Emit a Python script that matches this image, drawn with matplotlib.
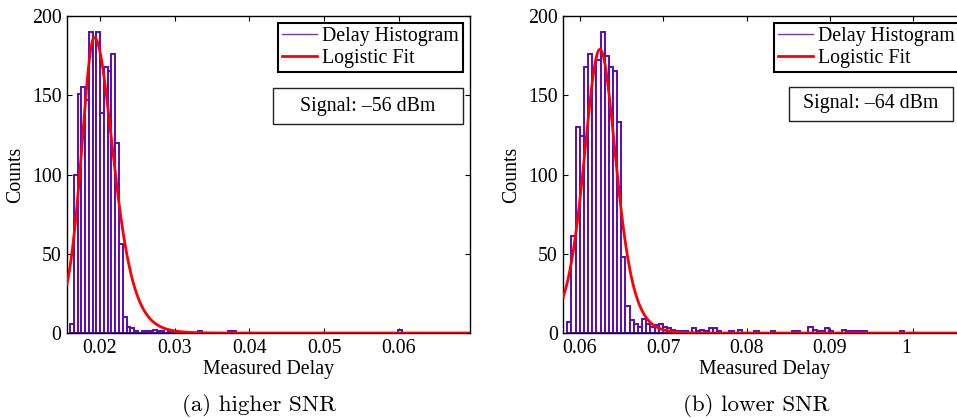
import numpy as np
import matplotlib.pyplot as plt
from matplotlib.lines import Line2D
from matplotlib.patches import Rectangle
import matplotlib.transforms as mtransforms

plt.rcParams['font.family'] = ['Liberation Serif', 'DejaVu Serif']
plt.rcParams['font.size'] = 14.3

HIST_COLOR = '#5a0ab8'
HIST_KEY_COLOR = '#6a3cd0'
FIT_COLOR = '#ff0000'

# --- higher SNR run, signal -56 dBm ---
hi_start = 0.01598
hi_width = 0.000505
hi_counts = [6, 100, 151, 155, 147, 190, 186, 190, 139, 168, 165, 176, 120, 56, 10, 4, 3, 1, 0, 1,
             1, 1, 2, 1, 1, 0, 1, 0, 0, 0, 0, 0, 0, 0, 1, 0, 0, 0, 0, 0,
             0, 0, 1, 1, 0, 0, 0, 0, 0, 0, 0, 0, 0, 0, 0, 0, 0, 0, 0, 0,
             0, 0, 0, 0, 0, 0, 0, 0, 0, 0, 0, 0, 0, 0, 0, 0, 0, 0, 0, 0,
             0, 0, 0, 0, 0, 0, 0, 2, 0, 0, 0, 0, 0, 0, 0, 0, 0, 0, 0, 0]
hi_fit = dict(peak=186.5, mode=0.01924, s_left=0.00118, s_right=0.0017)
hi_xlim = (0.01558, 0.06955)
hi_ticks = [0.02, 0.03, 0.04, 0.05, 0.06]
hi_ticklabels = ['0.02', '0.03', '0.04', '0.05', '0.06']

# --- lower SNR run, signal -64 dBm ---
lo_start = 0.05848
lo_width = 0.000499
lo_counts = [7, 61, 130, 124, 168, 176, 164, 172, 190, 175, 168, 165, 133, 48, 17, 8, 6, 4, 9, 6,
             4, 5, 6, 4, 3, 2, 1, 1, 1, 0, 3, 1, 2, 1, 3, 3, 1, 0, 0, 1,
             0, 2, 0, 0, 0, 1, 0, 0, 0, 1, 0, 0, 0, 0, 1, 1, 0, 0, 4, 2,
             1, 1, 3, 1, 0, 0, 2, 1, 1, 1, 1, 1, 0, 0, 0, 0, 0, 0, 0, 0,
             1, 0, 0, 0, 0, 0, 0, 0, 0, 0, 0, 0, 0, 0, 0]
lo_fit = dict(peak=179, mode=0.0624, s_left=0.0013, s_right=0.0013)
lo_xlim = (0.058, 0.10634)
lo_ticks = [0.06, 0.07, 0.08, 0.09, 0.1]
lo_ticklabels = ['0.06', '0.07', '0.08', '0.09', '1']


def logistic_fit(x, peak, mode, s_left, s_right):
    s = np.where(x < mode, s_left, s_right)
    return peak / np.cosh((x - mode) / (2 * s)) ** 2


def draw_panel(ax, start, width, counts, fit, xlim, ticks, ticklabels, signal, box):
    edges = start + width * np.arange(len(counts))
    ax.bar(edges, counts, width=width, align='edge', facecolor='white',
           edgecolor=HIST_COLOR, linewidth=1.4, zorder=2)
    xs = np.linspace(xlim[0], xlim[1], 600)
    ax.plot(xs, logistic_fit(xs, **fit), color=FIT_COLOR, lw=2.0, zorder=3)

    ax.set_xlim(*xlim)
    ax.set_ylim(0, 200)
    ax.set_xticks(ticks)
    ax.set_xticklabels(ticklabels)
    ax.set_yticks([0, 50, 100, 150, 200])
    ax.tick_params(direction='in', top=True, right=True, length=3.6, width=0.8,
                   labelsize=14.3, pad=4)
    for sp in ax.spines.values():
        sp.set_linewidth(1.0)

    ax.set_xlabel('Measured Delay', fontsize=14.3)
    ax.set_ylabel('Counts', fontsize=14.3)
    ax.xaxis.set_label_coords(0.5, -0.085)
    ax.yaxis.set_label_coords(-0.104, 0.5)

    handles = [Line2D([], [], color=HIST_KEY_COLOR, lw=1.0),
               Line2D([], [], color=FIT_COLOR, lw=2.0)]
    leg = ax.legend(handles, ['Delay Histogram', 'Logistic Fit'],
                    loc='upper right', bbox_to_anchor=(0.983, 0.979),
                    borderaxespad=0, fancybox=False, framealpha=1,
                    edgecolor='black', handlelength=1.8, handletextpad=0.25,
                    labelspacing=0.15, borderpad=0.2, fontsize=14.3)
    leg.get_frame().set_linewidth(1.5)

    x0, x1, y0, y1 = box
    ax.add_patch(Rectangle((x0, y0), x1 - x0, y1 - y0, transform=ax.transAxes,
                           facecolor='white', edgecolor='#222222', lw=1.0,
                           zorder=5, clip_on=False))
    ax.text((x0 + x1) / 2, (y0 + y1) / 2, signal, transform=ax.transAxes,
            ha='center', va='center', fontsize=14.3, zorder=6)


fig = plt.figure(figsize=(9.57, 4.18), dpi=100)
ax_hi = fig.add_axes([0.0700, 0.2033, 0.4211, 0.7584])
ax_lo = fig.add_axes([0.5886, 0.2033, 0.4208, 0.7584])

draw_panel(ax_hi, hi_start, hi_width, hi_counts, hi_fit, hi_xlim, hi_ticks,
           hi_ticklabels, 'Signal: \u201356 dBm', (0.511, 0.983, 0.658, 0.774))
draw_panel(ax_lo, lo_start, lo_width, lo_counts, lo_fit, lo_xlim, lo_ticks,
           lo_ticklabels, 'Signal: \u201364 dBm', (0.560, 0.967, 0.670, 0.777))

# the last label sits a little left of its tick
last = ax_lo.get_xticklabels()[-1]
last.set_transform(last.get_transform() +
                   mtransforms.ScaledTranslation(-7 / 100, 0, fig.dpi_scale_trans))

fig.text(0.2706, 0.031, '(a) higher SNR', family='cmr10', fontsize=16.6,
         ha='center', va='center')
fig.text(0.7907, 0.031, '(b) lower SNR', family='cmr10', fontsize=16.6,
         ha='center', va='center')

fig.savefig('out.png', dpi=100)
